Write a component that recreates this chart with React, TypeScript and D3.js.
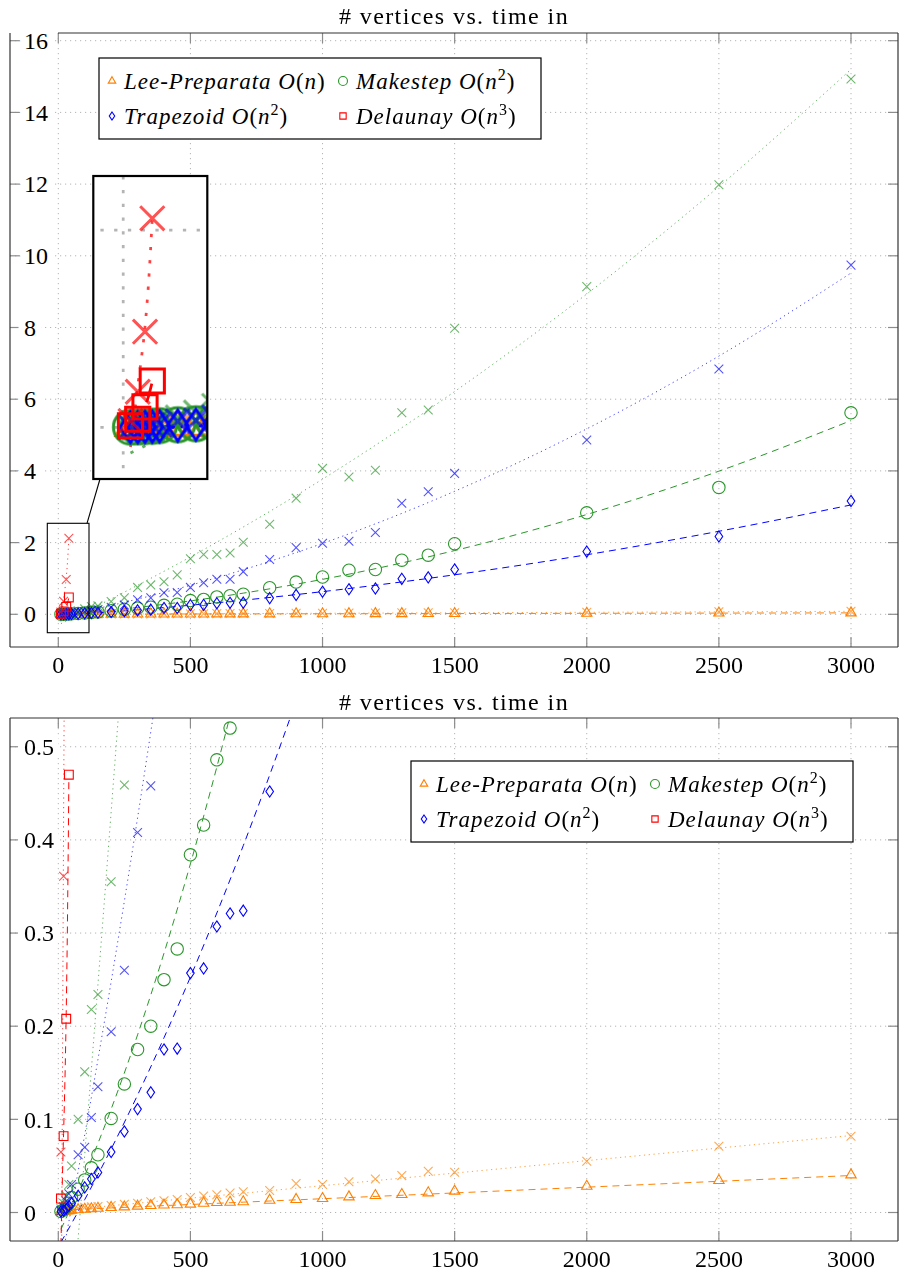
import React from "react";
import * as d3 from "d3";

// measured vertex counts (x) shared by the three O(n)/O(n^2) algorithms
const vertexCounts = [10, 20, 30, 40, 50, 75, 100, 125, 150, 200, 250, 300, 350, 400, 450, 500, 550, 600, 650, 700, 800, 900, 1000, 1100, 1200, 1300, 1400, 1500, 2000, 2500, 3000];
const delaunayCounts = [10, 20, 30, 40];

// marked series (time)
const leePreparata = [0.0008, 0.0012, 0.0016, 0.002, 0.0025, 0.003, 0.0035, 0.004, 0.0045, 0.0054, 0.006, 0.0068, 0.0075, 0.008, 0.0083, 0.009, 0.01, 0.0107, 0.011, 0.0115, 0.0132, 0.014, 0.015, 0.0168, 0.0182, 0.0193, 0.0211, 0.0229, 0.0282, 0.0343, 0.0404];
const makestep = [0.001, 0.003, 0.006, 0.01, 0.016, 0.025, 0.035, 0.048, 0.062, 0.101, 0.138, 0.175, 0.2, 0.25, 0.283, 0.384, 0.416, 0.486, 0.52, 0.56, 0.74, 0.9, 1.04, 1.23, 1.25, 1.51, 1.65, 1.97, 2.83, 3.54, 5.62];
const trapezoid = [0.001, 0.002, 0.004, 0.007, 0.01, 0.018, 0.027, 0.036, 0.043, 0.065, 0.087, 0.111, 0.129, 0.175, 0.176, 0.257, 0.262, 0.307, 0.321, 0.324, 0.452, 0.54, 0.63, 0.7, 0.72, 0.99, 1.03, 1.25, 1.75, 2.17, 3.16];
const delaunay = [0.015, 0.082, 0.208, 0.47];

// second measurement (x marks, dotted fits)
const leePreparataAlt = [0.001, 0.0015, 0.002, 0.0028, 0.0035, 0.0045, 0.0055, 0.006, 0.0065, 0.0075, 0.0088, 0.01, 0.0115, 0.0125, 0.014, 0.016, 0.0177, 0.019, 0.021, 0.0222, 0.0236, 0.031, 0.03, 0.033, 0.036, 0.0396, 0.0443, 0.0433, 0.0551, 0.0712, 0.0819];
const makestepAlt = [0.004, 0.01, 0.018, 0.03, 0.05, 0.1, 0.151, 0.218, 0.234, 0.355, 0.459, 0.75, 0.82, 0.91, 1.1, 1.55, 1.67, 1.67, 1.71, 2.01, 2.51, 3.24, 4.07, 3.83, 4.02, 5.62, 5.7, 7.98, 9.14, 11.98, 14.93];
const trapezoidAlt = [0.002, 0.006, 0.012, 0.02, 0.03, 0.062, 0.07, 0.102, 0.135, 0.194, 0.26, 0.408, 0.458, 0.6, 0.61, 0.75, 0.88, 0.98, 0.98, 1.19, 1.53, 1.86, 1.98, 2.04, 2.28, 3.1, 3.42, 3.93, 4.86, 6.84, 9.74];
const delaunayAlt = [0.065, 0.361, 0.97, 2.12];

// fitted curves
const fitCounts = [10, 25, 50, 75, 100, 150, 200, 300, 400, 500, 700, 1000, 1500, 2000, 2500, 3000];
const leePreparataFit = [0.0025, 0.0027, 0.003, 0.0033, 0.0036, 0.0043, 0.0049, 0.0061, 0.0074, 0.0086, 0.0111, 0.0148, 0.021, 0.0272, 0.0335, 0.0397];
const leePreparataAltFit = [0.0022, 0.0026, 0.0032, 0.0039, 0.0046, 0.0059, 0.0073, 0.01, 0.0127, 0.0154, 0.0207, 0.0288, 0.0423, 0.0557, 0.0692, 0.0826];
const makestepFit = [-0.018, -0.0089, 0.0067, 0.0228, 0.0395, 0.0742, 0.111, 0.1907, 0.2784, 0.3743, 0.5903, 0.975, 1.778, 2.784, 3.992, 5.403];
const makestepAltFit = [-0.2598, -0.2068, -0.1179, -0.0283, 0.062, 0.2446, 0.43, 0.809, 1.199, 1.6, 2.435, 3.77, 6.215, 8.935, 11.93, 15.2];
const trapezoidFit = [-0.0319, -0.0245, -0.0119, 0.0009, 0.0139, 0.0406, 0.0682, 0.1261, 0.1876, 0.2528, 0.3938, 0.6323, 1.1019, 1.6614, 2.316, 3.0505];
const trapezoidAltFit = [-0.0547, -0.0324, 0.0055, 0.0441, 0.0834, 0.1642, 0.2478, 0.4237, 0.6111, 0.81, 1.2423, 1.977, 3.4314, 5.1733, 7.2026, 9.5194];
const delaunayFitCounts = [10, 15, 20, 25, 30, 35, 40];
const delaunayFit = [-0.035, 0.03, 0.085, 0.14, 0.215, 0.32, 0.465];
const delaunayAltFit = [-0.2, 0.1, 0.42, 0.7, 1.02, 1.48, 2.12];

const xTicks = [0, 500, 1000, 1500, 2000, 2500, 3000];
const topYTicks = [0, 2, 4, 6, 8, 10, 12, 14, 16];
const bottomYTicks = [0, 0.1, 0.2, 0.3, 0.4, 0.5];
const title = "# vertices vs. time in";
const legendNames = ["Lee-Preparata", "Makestep", "Trapezoid", "Delaunay"];
const legendOrders = [1, 2, 2, 3];

const FONT = "'Liberation Serif', 'DejaVu Serif', serif";
const ORANGE = "#ff8000";
const GREEN = "#2a962a";
const BLUE = "#0000ff";
const RED = "#ff0000";

const zip = (xs, ys) => xs.map((v, i) => [v, ys[i]]);

const seriesList = [
    { key: "leeAlt", pts: zip(vertexCounts, leePreparataAlt), fit: zip(fitCounts, leePreparataAltFit), colour: ORANGE, mark: "x", dash: "1.2,3.6", alt: true },
    { key: "lee", pts: zip(vertexCounts, leePreparata), fit: zip(fitCounts, leePreparataFit), colour: ORANGE, mark: "triangle", dash: "7,5" },
    { key: "makeAlt", pts: zip(vertexCounts, makestepAlt), fit: zip(fitCounts, makestepAltFit), colour: GREEN, mark: "x", dash: "1.2,3.6", alt: true },
    { key: "make", pts: zip(vertexCounts, makestep), fit: zip(fitCounts, makestepFit), colour: GREEN, mark: "circle", dash: "7,5" },
    { key: "trapAlt", pts: zip(vertexCounts, trapezoidAlt), fit: zip(fitCounts, trapezoidAltFit), colour: BLUE, mark: "x", dash: "1.2,3.6", alt: true },
    { key: "trap", pts: zip(vertexCounts, trapezoid), fit: zip(fitCounts, trapezoidFit), colour: BLUE, mark: "diamond", dash: "7,5" },
    { key: "delAlt", pts: zip(delaunayCounts, delaunayAlt), fit: zip(delaunayFitCounts, delaunayAltFit), colour: RED, mark: "x", dash: "1.2,3.6", alt: true },
    { key: "del", pts: zip(delaunayCounts, delaunay), fit: zip(delaunayFitCounts, delaunayFit), colour: RED, mark: "square", dash: "7,5" }
];
const legendMarks = ["triangle", "circle", "diamond", "square"];
const legendColours = [ORANGE, GREEN, BLUE, RED];

function markPath(mark, s = 1) {
    if (mark === "triangle") {
        const r = 6 * s;
        return `M0,${-r}L${0.866 * r},${r / 2}L${-0.866 * r},${r / 2}Z`;
    }
    if (mark === "circle") {
        const r = 6.2 * s;
        return `M${r},0A${r},${r} 0 1,1 ${-r},0A${r},${r} 0 1,1 ${r},0Z`;
    }
    if (mark === "diamond") {
        const h = 5.6 * s, w = 3.8 * s;
        return `M0,${-h}L${w},0L0,${h}L${-w},0Z`;
    }
    if (mark === "square") {
        const r = 4.4 * s;
        return `M${-r},${-r}H${r}V${r}H${-r}Z`;
    }
    const r = 4.4 * s;
    return `M${-r},${-r}L${r},${r}M${-r},${r}L${r},${-r}`;
}

function Grid({ x, y, yTicks, box }) {
    return (
        <g stroke="#b4b4b4" strokeWidth={1} strokeDasharray="1.2,3.8" fill="none">
            {xTicks.map(t => (
                <line key={"gx" + t} x1={x(t)} x2={x(t)} y1={box.top} y2={box.bottom} />
            ))}
            {yTicks.map(t => (
                <line key={"gy" + t} x1={box.left} x2={box.right} y1={y(t)} y2={y(t)} />
            ))}
        </g>
    );
}

function Series({ x, y }) {
    const line = d3.line().x(d => x(d[0])).y(d => y(d[1])).curve(d3.curveMonotoneX);
    return (
        <g>
            {seriesList.map(s => (
                <path key={"l" + s.key} d={line(s.fit)} fill="none" stroke={s.colour}
                    strokeWidth={1} strokeDasharray={s.dash} opacity={s.alt ? 0.75 : 1} />
            ))}
            {seriesList.map(s => (
                <g key={"m" + s.key} fill="none" stroke={s.colour} strokeWidth={1.1} opacity={s.alt ? 0.68 : 1}>
                    {s.pts.map((p, i) => (
                        <path key={i} d={markPath(s.mark)} transform={`translate(${x(p[0])},${y(p[1])})`} />
                    ))}
                </g>
            ))}
        </g>
    );
}

function Legend({ x0, y0 }) {
    const cols = [{ m: 13, t: 25 }, { m: 244, t: 257 }];
    const rows = [23, 58];
    return (
        <g>
            <rect x={x0} y={y0} width={442} height={81} fill="white" stroke="black" strokeWidth={1.2} />
            {legendNames.map((name, i) => {
                const c = cols[i % 2];
                const cy = y0 + rows[Math.floor(i / 2)];
                const ord = legendOrders[i];
                return (
                    <g key={name}>
                        <path d={markPath(legendMarks[i], 0.72)} transform={`translate(${x0 + c.m},${cy})`}
                            fill="none" stroke={legendColours[i]} strokeWidth={1.1} />
                        <text x={x0 + c.t} y={cy + 8} fontFamily={FONT} fontSize={23} fontStyle="italic" letterSpacing={1}>
                            {name + " O"}
                            <tspan fontStyle="normal">(</tspan>
                            n
                            {ord > 1 ? <tspan fontStyle="normal" fontSize={16} dy={-9}>{ord}</tspan> : null}
                            <tspan fontStyle="normal" dy={ord > 1 ? 9 : 0}>)</tspan>
                        </text>
                    </g>
                );
            })}
        </g>
    );
}

function Chart({ id, x, y, yTicks, box, titleY, labelY, legend, topGap, inset }) {
    const fmt = d3.format("");
    const halo = { stroke: "white", strokeWidth: 14, paintOrder: "stroke", strokeLinejoin: "round" };
    return (
        <g>
            <defs>
                <clipPath id={id + "clip"}>
                    <rect x={box.left} y={box.top} width={box.right - box.left} height={box.bottom - box.top} />
                </clipPath>
                {inset ? (
                    <clipPath id={id + "inset"}>
                        <rect x={inset.to.x} y={inset.to.y} width={inset.to.w} height={inset.to.h} />
                    </clipPath>
                ) : null}
            </defs>
            <Grid x={x} y={y} yTicks={yTicks} box={box} />
            <g stroke="#8c8c8c" strokeWidth={1.2}>
                {xTicks.map(t => (
                    <g key={"tx" + t}>
                        <line x1={x(t)} x2={x(t)} y1={box.bottom} y2={box.bottom - 10} />
                        <line x1={x(t)} x2={x(t)} y1={box.top} y2={box.top + 10} />
                    </g>
                ))}
                {yTicks.map(t => (
                    <g key={"ty" + t}>
                        <line x1={box.left} x2={box.left + 10} y1={y(t)} y2={y(t)} />
                        <line x1={box.right} x2={box.right - 10} y1={y(t)} y2={y(t)} />
                    </g>
                ))}
            </g>
            <g fontFamily={FONT} fontSize={24} fill="black">
                {yTicks.map(t => (
                    <text key={"ly" + t} x={24} y={y(t)} dy="0.34em" style={halo}>{fmt(t)}</text>
                ))}
            </g>
            <g clipPath={`url(#${id}clip)`}>
                <Series x={x} y={y} />
            </g>
            {inset ? (
                <g>
                    <g clipPath={`url(#${id}inset)`}>
                        <rect x={inset.to.x} y={inset.to.y} width={inset.to.w} height={inset.to.h} fill="white" />
                        <g transform={`translate(${inset.to.x + inset.to.w / 2},${inset.to.y + inset.to.h / 2}) scale(${inset.s}) translate(${-(inset.from.x + inset.from.w / 2)},${-(inset.from.y + inset.from.h / 2)})`}>
                            <Grid x={x} y={y} yTicks={yTicks} box={box} />
                            <Series x={x} y={y} />
                        </g>
                    </g>
                    <rect x={inset.to.x} y={inset.to.y} width={inset.to.w} height={inset.to.h} fill="none" stroke="black" strokeWidth={2.2} />
                    <rect x={inset.from.x} y={inset.from.y} width={inset.from.w} height={inset.from.h} fill="none" stroke="black" strokeWidth={1.1} />
                    <line x1={inset.from.x + 39.7} y1={inset.from.y} x2={inset.to.x + 6.7} y2={inset.to.y + inset.to.h} stroke="black" strokeWidth={1.1} />
                </g>
            ) : null}
            <Legend x0={legend[0]} y0={legend[1]} />
            <g stroke="#333" strokeWidth={1.2} fill="none">
                <line x1={box.left} x2={box.left} y1={box.top} y2={box.bottom} />
                <line x1={box.left} x2={box.right} y1={box.bottom} y2={box.bottom} />
                <line x1={box.right} x2={box.right} y1={box.top} y2={box.bottom} />
                <line x1={box.left + topGap} x2={box.right} y1={box.top} y2={box.top} />
            </g>
            <g fontFamily={FONT} fontSize={24} fill="black" textAnchor="middle">
                {xTicks.map(t => (
                    <text key={"lx" + t} x={x(t)} y={labelY}>{fmt(t)}</text>
                ))}
                <text x={454} y={titleY} letterSpacing={1.4}>{title}</text>
            </g>
        </g>
    );
}

export default function App() {
    const x = d3.scaleLinear().domain([0, 3000]).range([58.3, 851]);
    const yTop = d3.scaleLinear().domain([0, 16]).range([614.3, 40.7]);
    const yBottom = d3.scaleLinear().domain([0, 0.5]).range([1212.5, 746.75]);
    const inset = {
        from: { x: 47.3, y: 523.3, w: 41.7, h: 109.4 },
        to: { x: 93.3, y: 176, w: 114, h: 303 },
        s: 2.75
    };
    return (
        <svg width={899} height={1275} style={{ position: "absolute", left: 0, top: 0, background: "white" }}>
            <Chart id="top" x={x} y={yTop} yTicks={topYTicks}
                box={{ left: 10, right: 898, top: 33, bottom: 647 }}
                titleY={24} labelY={673} legend={[99, 58]} topGap={48} inset={inset} />
            <Chart id="bottom" x={x} y={yBottom} yTicks={bottomYTicks}
                box={{ left: 10, right: 898, top: 718, bottom: 1241 }}
                titleY={710} labelY={1267} legend={[411, 761]} topGap={0} inset={null} />
        </svg>
    );
}
